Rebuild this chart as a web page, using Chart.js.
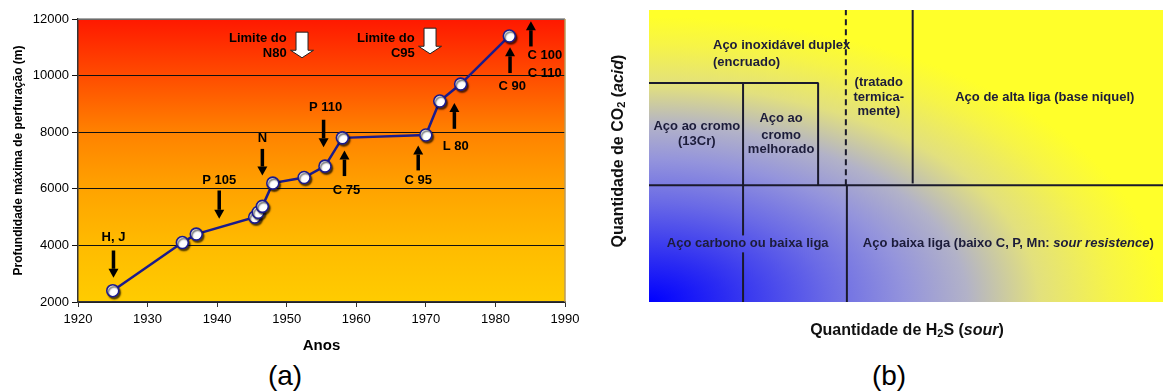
<!DOCTYPE html>
<html>
<head>
<meta charset="utf-8">
<script src="https://cdn.jsdelivr.net/npm/chart.js@4.4.1/dist/chart.umd.min.js"></script>
<style>
  html, body { margin: 0; padding: 0; background: #fff; width: 1163px; height: 392px; overflow: hidden; }
  #wrapA { position: absolute; left: 0; top: 0; width: 600px; height: 360px; }
  #wrapB { position: absolute; left: 600px; top: 0; width: 563px; height: 350px; }
  .cap { position: absolute; top: 362px; width: 80px; text-align: center;
         font: 28px Arial, 'Liberation Sans', sans-serif; line-height: 28px; color: #000; }
</style>
</head>
<body>
<div id="wrapA"><canvas id="depth" width="600" height="360"></canvas></div>
<div id="wrapB"><canvas id="steel" width="563" height="350"></canvas></div>
<div class="cap" style="left:245px">(a)</div>
<div class="cap" style="left:849px">(b)</div>

<script>
const FONT = "Arial, 'Liberation Sans', Helvetica, sans-serif";

// ---- (a) maximum drilling depth by year ----
const years  = [1925, 1935, 1937, 1945.4, 1945.9, 1946.5, 1948, 1952.5, 1955.5, 1958, 1970, 1972, 1975, 1982];
const depths = [2400, 4100, 4400, 5000, 5170, 5380, 6200, 6400, 6800, 7800, 7900, 9100, 9700, 11400];
const yearRange  = [1920, 1990];
const depthRange = [2000, 12000];

// steel grade introductions: arrow from "from" depth to "to" depth (tip)
const gradeArrows = [
  { text: ['H, J'],         year: 1925.1, from: 3820,  to: 2855,  labelYear: 1925.1, labelDepth: 4270 },
  { text: ['P 105'],        year: 1940.3, from: 5940,  to: 4940,  labelYear: 1940.3, labelDepth: 6290 },
  { text: ['N'],            year: 1946.5, from: 7410,  to: 6470,  labelYear: 1946.5, labelDepth: 7770 },
  { text: ['P 110'],        year: 1955.3, from: 8440,  to: 7470,  labelYear: 1955.6, labelDepth: 8880 },
  { text: ['C 75'],         year: 1958.3, from: 6450,  to: 7350,  labelYear: 1958.6, labelDepth: 5940 },
  { text: ['C 95'],         year: 1968.9, from: 6650,  to: 7530,  labelYear: 1968.9, labelDepth: 6290 },
  { text: ['L 80'],         year: 1974.1, from: 8120,  to: 9030,  labelYear: 1974.3, labelDepth: 7510 },
  { text: ['C 90'],         year: 1982.1, from: 10090, to: 11000, labelYear: 1982.4, labelDepth: 9620 },
  { text: ['C 100', 'C 110'], year: 1985.1, from: 11030, to: 11920, labelYear: 1987.1, labelDepth: 10710 }
];

// grade limits: hollow down arrows with right-aligned text
const limitArrows = [
  { text: ['Limite do', 'N80'], year: 1952.2, from: 11535, to: 10630, textYear: 1950.0, textDepth: 11323 },
  { text: ['Limite do', 'C95'], year: 1970.6, from: 11676, to: 10771, textYear: 1968.4, textDepth: 11323 }
];

function solidArrow(ctx, x, yBase, yTip) {
  const dir = yTip > yBase ? 1 : -1;
  const head = 9, half = 5;
  ctx.beginPath();
  ctx.moveTo(x, yBase);
  ctx.lineTo(x, yTip - dir * head);
  ctx.lineWidth = 3.5;
  ctx.strokeStyle = '#000';
  ctx.stroke();
  ctx.beginPath();
  ctx.moveTo(x - half, yTip - dir * head);
  ctx.lineTo(x + half, yTip - dir * head);
  ctx.lineTo(x, yTip);
  ctx.closePath();
  ctx.fillStyle = '#000';
  ctx.fill();
}

function hollowArrow(ctx, x, yTop, yTip) {
  const sw = 6, hw = 11.5, hh = 7.5;
  ctx.beginPath();
  ctx.moveTo(x - sw, yTop);
  ctx.lineTo(x + sw, yTop);
  ctx.lineTo(x + sw, yTip - hh);
  ctx.lineTo(x + hw, yTip - hh);
  ctx.lineTo(x, yTip);
  ctx.lineTo(x - hw, yTip - hh);
  ctx.lineTo(x - sw, yTip - hh);
  ctx.closePath();
  ctx.fillStyle = '#fff';
  ctx.fill();
  ctx.lineWidth = 1;
  ctx.strokeStyle = '#222';
  ctx.stroke();
}

const depthDecor = {
  id: 'depthDecor',
  beforeDraw(chart) {
    const { ctx, chartArea: a } = chart;
    const g = ctx.createLinearGradient(0, a.top, 0, a.bottom);
    g.addColorStop(0, '#ff1800');
    g.addColorStop(0.2, '#ff4c00');
    g.addColorStop(0.4, '#ff8200');
    g.addColorStop(0.6, '#ffa300');
    g.addColorStop(0.8, '#ffbb00');
    g.addColorStop(1, '#ffcc00');
    ctx.save();
    ctx.fillStyle = g;
    ctx.fillRect(a.left, a.top, a.right - a.left, a.bottom - a.top);
    ctx.restore();
  },
  beforeDatasetDraw(chart, args) {
    if (args.index === 0) {
      const c = chart.ctx;
      c.shadowColor = 'rgba(0,0,0,0.6)';
      c.shadowOffsetX = 1.5;
      c.shadowOffsetY = 2;
      c.shadowBlur = 1.5;
    }
  },
  afterDatasetDraw(chart, args) {
    if (args.index === 0) {
      const c = chart.ctx;
      c.shadowColor = 'rgba(0,0,0,0)';
      c.shadowOffsetX = 0;
      c.shadowOffsetY = 0;
      c.shadowBlur = 0;
    }
  },
  afterDraw(chart) {
    const { ctx, chartArea: a, scales: { x, y } } = chart;
    ctx.save();
    // plot frame
    ctx.lineWidth = 1.5;
    ctx.strokeStyle = '#8a8a8a';
    ctx.beginPath(); ctx.moveTo(a.left, a.top); ctx.lineTo(a.right, a.top); ctx.stroke();
    ctx.strokeStyle = '#b89a5a';
    ctx.beginPath(); ctx.moveTo(a.right, a.top); ctx.lineTo(a.right, a.bottom); ctx.stroke();

    ctx.font = 'bold 13px ' + FONT;
    ctx.fillStyle = '#000';
    ctx.textBaseline = 'middle';

    gradeArrows.forEach(g => {
      const px = x.getPixelForValue(g.year);
      solidArrow(ctx, px, y.getPixelForValue(g.from), y.getPixelForValue(g.to));
      ctx.textAlign = 'center';
      const lx = x.getPixelForValue(g.labelYear);
      const ly = y.getPixelForValue(g.labelDepth);
      g.text.forEach((t, i) => ctx.fillText(t, lx, ly + i * 17.6));
    });

    limitArrows.forEach(l => {
      hollowArrow(ctx, x.getPixelForValue(l.year), y.getPixelForValue(l.from), y.getPixelForValue(l.to));
      ctx.textAlign = 'right';
      ctx.fillStyle = '#000';
      const tx = x.getPixelForValue(l.textYear);
      const ty = y.getPixelForValue(l.textDepth);
      l.text.forEach((t, i) => ctx.fillText(t, tx, ty + i * 15.6));
    });
    ctx.restore();
  }
};

const points = years.map((yr, i) => ({ x: yr, y: depths[i] }));

new Chart(document.getElementById('depth'), {
  type: 'scatter',
  data: {
    datasets: [
      { label: 'pontos', data: points, showLine: false, order: 0, clip: false,
        pointRadius: 6, pointHoverRadius: 6, pointBackgroundColor: '#fff',
        pointBorderColor: '#1b1b8c', pointBorderWidth: 1.6 },
      { label: 'linha', data: points, showLine: true, order: 1,
        borderColor: '#1b1b8c', borderWidth: 2.5, pointRadius: 0, fill: false, tension: 0 }
    ]
  },
  options: {
    responsive: false,
    animation: false,
    devicePixelRatio: 1,
    events: [],
    layout: { padding: { left: 0, top: 19, right: 35, bottom: 0 } },
    plugins: { legend: { display: false }, tooltip: { enabled: false } },
    scales: {
      x: {
        type: 'linear', min: yearRange[0], max: yearRange[1],
        ticks: { stepSize: 10, color: '#000', padding: 5, font: { size: 13, family: FONT },
                 callback: v => String(v) },
        grid: { drawOnChartArea: false, drawTicks: true, tickLength: 5, color: '#333', lineWidth: 1 },
        border: { display: true, color: '#333', width: 1.5 },
        title: { display: true, text: 'Anos', color: '#000',
                 font: { size: 15, weight: 'bold', family: FONT }, padding: { top: 0, bottom: 5 } },
        afterFit(s) { s.height = 58; }
      },
      y: {
        type: 'linear', min: depthRange[0], max: depthRange[1],
        ticks: { stepSize: 2000, color: '#000', padding: 3, font: { size: 13, family: FONT },
                 callback: v => String(v) },
        grid: { color: '#111', lineWidth: 1, tickLength: 6 },
        border: { display: true, color: '#333', width: 1.5 },
        title: { display: true, text: 'Profundidade máxima de perfuração (m)', color: '#000',
                 font: { size: 12, weight: 'bold', family: FONT }, padding: { top: 11, bottom: 0 } },
        afterFit(s) { s.width = 78; }
      }
    }
  },
  plugins: [depthDecor]
});

// ---- (b) steel selection map: H2S (x) vs CO2 (y), both 0-100 ----
const solidLines = [
  [0, 40, 100, 40],
  [0, 75, 33, 75],
  [18.3, 22.8, 18.3, 75],
  [18.3, 0, 18.3, 17],
  [32.9, 40, 32.9, 75],
  [38.5, 0, 38.5, 40],
  [51.3, 40.6, 51.3, 100]
];
const dashedLines = [
  [38.3, 40, 38.3, 100]
];
const regionTexts = [
  { t: 'Aço inoxidável duplex', x: 12.45, y: 88.0, align: 'left' },
  { t: '(encruado)',            x: 12.45, y: 82.2, align: 'left' },
  { t: '(tratado',              x: 44.7,  y: 75.3, align: 'center' },
  { t: 'termica-',              x: 44.7,  y: 70.2, align: 'center' },
  { t: 'mente)',                x: 44.7,  y: 65.4, align: 'center' },
  { t: 'Aço de alta liga (base niquel)', x: 77.0, y: 70.2, align: 'center' },
  { t: 'Aço ao cromo',          x: 9.3,   y: 60.3, align: 'center' },
  { t: '(13Cr)',                x: 9.3,   y: 55.1, align: 'center' },
  { t: 'Aço ao',                x: 25.7,  y: 62.7, align: 'center' },
  { t: 'cromo',                 x: 25.7,  y: 57.2, align: 'center' },
  { t: 'melhorado',             x: 25.7,  y: 52.1, align: 'center' },
  { t: 'Aço carbono ou baixa liga', x: 19.2, y: 20.2, align: 'center' }
];
const sourText = { parts: ['Aço baixa liga (baixo C, P, Mn: ', 'sour resistence', ')'], x: 69.9, y: 20.2 };
const co2Title = ['Quantidade de CO', '2', ' (', 'acid', ')'];
const h2sTitle = ['Quantidade de H', '2', 'S (', 'sour', ')'];

function richSegments(parts, size) {
  const bold = 'bold ' + size + 'px ' + FONT;
  const sub = 'bold ' + Math.round(size * 0.68) + 'px ' + FONT;
  const ital = 'italic bold ' + size + 'px ' + FONT;
  return [
    { t: parts[0], f: bold, dy: 0 },
    { t: parts[1], f: sub, dy: 3 },
    { t: parts[2], f: bold, dy: 0 },
    { t: parts[3], f: ital, dy: 0 },
    { t: parts[4], f: bold, dy: 0 }
  ];
}

function drawRich(ctx, segs, cx, cy, rot, color) {
  ctx.save();
  ctx.translate(cx, cy);
  ctx.rotate(rot);
  ctx.fillStyle = color;
  ctx.textBaseline = 'middle';
  ctx.textAlign = 'left';
  let total = 0;
  segs.forEach(s => { ctx.font = s.f; s.w = ctx.measureText(s.t).width; total += s.w; });
  let px = -total / 2;
  segs.forEach(s => { ctx.font = s.f; ctx.fillText(s.t, px, s.dy); px += s.w; });
  ctx.restore();
}

const steelDecor = {
  id: 'steelDecor',
  beforeDraw(chart) {
    const { ctx, chartArea: a } = chart;
    const w = a.right - a.left, h = a.bottom - a.top;
    ctx.save();
    ctx.beginPath();
    ctx.rect(a.left, a.top, w, h);
    ctx.clip();
    ctx.translate(a.left, a.bottom);
    ctx.scale(1.8, 1);
    const g = ctx.createRadialGradient(0, 0, 0, 0, 0, 285);
    g.addColorStop(0, '#0000ff');
    g.addColorStop(0.15, '#2c2cf2');
    g.addColorStop(0.35, '#6a6ae6');
    g.addColorStop(0.5, '#9494dc');
    g.addColorStop(0.62, '#b2b2c8');
    g.addColorStop(0.76, '#e2e07e');
    g.addColorStop(0.9, '#f6f448');
    g.addColorStop(1, '#ffff2a');
    ctx.fillStyle = g;
    ctx.fillRect(0, -h, w / 1.8, h);
    ctx.restore();
  },
  afterDraw(chart) {
    const { ctx, chartArea: a, scales: { x, y } } = chart;
    ctx.save();
    ctx.strokeStyle = '#1a1a2c';
    ctx.lineWidth = 2;
    solidLines.forEach(([x1, y1, x2, y2]) => {
      ctx.beginPath();
      ctx.moveTo(x.getPixelForValue(x1), y.getPixelForValue(y1));
      ctx.lineTo(x.getPixelForValue(x2), y.getPixelForValue(y2));
      ctx.stroke();
    });
    ctx.setLineDash([6, 4]);
    dashedLines.forEach(([x1, y1, x2, y2]) => {
      ctx.beginPath();
      ctx.moveTo(x.getPixelForValue(x1), y.getPixelForValue(y1));
      ctx.lineTo(x.getPixelForValue(x2), y.getPixelForValue(y2));
      ctx.stroke();
    });
    ctx.setLineDash([]);

    ctx.fillStyle = '#1c1c3a';
    ctx.font = 'bold 13px ' + FONT;
    ctx.textBaseline = 'middle';
    regionTexts.forEach(r => {
      ctx.textAlign = r.align;
      ctx.fillText(r.t, x.getPixelForValue(r.x), y.getPixelForValue(r.y));
    });

    // low-alloy label with italic part
    const fb = 'bold 13px ' + FONT, fi = 'italic bold 13px ' + FONT;
    drawRich(ctx, [
      { t: sourText.parts[0], f: fb, dy: 0 },
      { t: sourText.parts[1], f: fi, dy: 0 },
      { t: sourText.parts[2], f: fb, dy: 0 }
    ], x.getPixelForValue(sourText.x), y.getPixelForValue(sourText.y), 0, '#1c1c3a');

    // axis titles
    drawRich(ctx, richSegments(co2Title, 16), a.left - 30, 151, -Math.PI / 2, '#111');
    drawRich(ctx, richSegments(h2sTitle, 16), (a.left + a.right) / 2 + 1, a.bottom + 29, 0, '#111');
    ctx.restore();
  }
};

new Chart(document.getElementById('steel'), {
  type: 'scatter',
  data: { datasets: [] },
  options: {
    responsive: false,
    animation: false,
    devicePixelRatio: 1,
    events: [],
    layout: { padding: { left: 49, top: 10, right: 0, bottom: 48 } },
    plugins: { legend: { display: false }, tooltip: { enabled: false } },
    scales: {
      x: { type: 'linear', min: 0, max: 100, display: false },
      y: { type: 'linear', min: 0, max: 100, display: false }
    }
  },
  plugins: [steelDecor]
});
</script>
</body>
</html>
